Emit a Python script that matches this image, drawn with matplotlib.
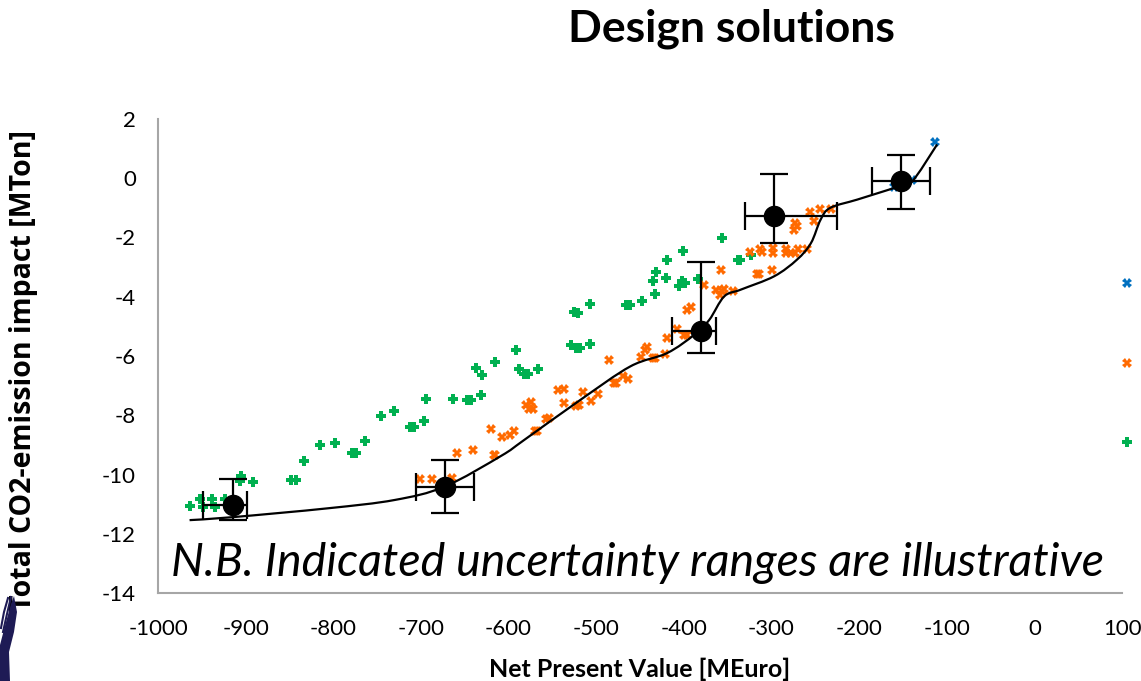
import matplotlib
matplotlib.use("Agg")
import matplotlib.pyplot as plt
import numpy as np
from matplotlib.path import Path
from matplotlib.patches import PathPatch, Polygon
from matplotlib.lines import Line2D

plt.rcParams['font.family'] = ['Lato', 'DejaVu Sans']
plt.rcParams['axes.unicode_minus'] = False

# design solutions, option set A (green)
green_x = [-963, -952, -949, -938, -935, -924, -905, -906, -892, -848, -842, -834,
           -815, -798, -779, -774, -764, -746, -731, -712, -708, -696, -694, -663,
           -648, -643, -631, -637, -630, -615, -591, -588, -582, -578, -566, -529,
           -523, -519, -507, -525, -521, -507, -466, -462, -448, -433, -435, -432,
           -420, -419, -401, -406, -402, -399, -384, -356, -338, -336, -323]
green_y = [-11.07, -10.81, -11.08, -10.81, -11.09, -10.81, -10.04, -10.21, -10.26, -10.18, -10.18, -9.55,
           -8.99, -8.92, -9.28, -9.28, -8.86, -8.01, -7.86, -8.39, -8.39, -8.18, -7.46, -7.45,
           -7.50, -7.50, -7.32, -6.42, -6.64, -6.21, -5.79, -6.45, -6.61, -6.61, -6.44, -5.63,
           -5.73, -5.73, -5.58, -4.50, -4.54, -4.24, -4.29, -4.29, -4.14, -3.91, -3.48, -3.18,
           -3.37, -2.77, -2.46, -3.63, -3.46, -3.54, -3.39, -2.02, -2.75, -2.75, -2.60]

# option set B (orange)
orange_x = [-701, -687, -665, -659, -641, -620, -617, -615, -607, -598, -594, -570,
            -568, -557, -554, -580, -574, -577, -572, -544, -537, -537, -523, -520,
            -515, -506, -498, -480, -477, -470, -464, -485, -449, -442, -444, -435,
            -433, -421, -419, -408, -400, -396, -396, -392, -377, -363, -359, -357,
            -354, -344, -358, -325, -317, -313, -311, -314, -300, -298, -298, -284,
            -284, -278, -273, -270, -260, -273, -271, -274, -256, -252, -245, -232]
orange_y = [-10.16, -10.16, -10.11, -9.29, -9.16, -8.48, -9.35, -9.35, -8.73, -8.67, -8.53, -8.53,
            -8.53, -8.12, -8.08, -7.66, -7.54, -7.78, -7.79, -7.16, -7.12, -7.59, -7.68, -7.66,
            -7.21, -7.51, -7.29, -6.90, -6.90, -6.69, -6.76, -6.15, -6.03, -5.70, -5.81, -6.07,
            -6.07, -5.94, -5.40, -5.08, -5.28, -5.28, -4.44, -4.36, -3.59, -3.76, -3.93, -3.80,
            -3.73, -3.79, -3.09, -2.50, -3.23, -2.39, -2.50, -3.23, -3.09, -2.35, -2.52, -2.38,
            -2.52, -2.52, -2.52, -2.39, -2.38, -1.51, -1.62, -1.76, -1.13, -1.43, -1.04, -1.04]

# option set C (blue)
blue_x = [-114, -160, -140]
blue_y = [1.21, -0.30, -0.05]

# selected solutions with illustrative uncertainty
sel_x = [-915, -673, -381, -297, -152]
sel_y = [-11.04, -10.41, -5.17, -1.26, -0.10]
sel_xerr_lo = [34, 33, 33, 33, 33]
sel_xerr_hi = [17, 33, 18, 72, 33]
sel_yerr_lo = [0.49, 0.90, 0.73, 0.91, 0.94]
sel_yerr_hi = [0.89, 0.90, 2.33, 1.39, 0.90]

# front line
front_x = [-964, -915, -806, -730, -673, -609, -582, -518, -461, -419, -388,
           -371, -354, -335, -297, -271, -255, -244, -233, -202, -160, -141, -111]
front_y = [-11.54, -11.44, -11.14, -10.86, -10.41, -9.38, -8.83, -7.48, -6.35, -5.90, -5.28,
           -4.78, -3.99, -3.76, -3.31, -2.75, -2.19, -1.40, -1.00, -0.72, -0.33, -0.16, 1.14]

GREEN = '#00B050'
ORANGE = '#FF6A00'
BLUE = '#0070C0'


def smooth_path(xs, ys):
    # Catmull-Rom style cubic Bezier through the given knots
    p = np.column_stack([xs, ys]).astype(float)
    verts = [p[0]]
    codes = [Path.MOVETO]
    n = len(p)
    for i in range(n - 1):
        p0 = p[i - 1] if i > 0 else p[i]
        p3 = p[i + 2] if i + 2 < n else p[i + 1]
        c1 = p[i] + (p[i + 1] - p0) / 6.0
        c2 = p[i + 1] - (p3 - p[i]) / 6.0
        verts += [c1, c2, p[i + 1]]
        codes += [Path.CURVE4] * 3
    return Path(verts, codes)


fig = plt.figure(figsize=(11.41, 6.81), dpi=100)
ax = fig.add_axes([0.1385, 0.1292, 0.8449, 0.6961])

ax.plot(green_x, green_y, linestyle='none', marker='P', markersize=6.5,
        color=GREEN, markeredgewidth=0, zorder=2)
ax.plot(orange_x, orange_y, linestyle='none', marker='X', markersize=7,
        color=ORANGE, markeredgewidth=0, zorder=2)
ax.plot(blue_x, blue_y, linestyle='none', marker='X', markersize=7,
        color=BLUE, markeredgewidth=0, zorder=2)

ax.add_patch(PathPatch(smooth_path(front_x, front_y), facecolor='none',
                       edgecolor='black', linewidth=1.6, zorder=3))

ax.errorbar(sel_x, sel_y, xerr=[sel_xerr_lo, sel_xerr_hi], yerr=[sel_yerr_lo, sel_yerr_hi],
            fmt='o', color='black', markersize=14.5, elinewidth=1.6, capsize=10,
            capthick=1.6, zorder=4)

ax.set_xlim(-1000, 100)
ax.set_ylim(-14, 2)
ax.set_xticks(np.arange(-1000, 101, 100))
ax.set_yticks(np.arange(-14, 3, 2))
ax.tick_params(length=0, labelsize=16)
ax.tick_params(axis='x', pad=19)
ax.tick_params(axis='y', pad=16)
for s in ['top', 'right']:
    ax.spines[s].set_visible(False)
for s in ['left', 'bottom']:
    ax.spines[s].set_color('#A6A6A6')
    ax.spines[s].set_linewidth(1.5)

ax.set_xlabel('Net Present Value [MEuro]', fontsize=18, fontweight='bold', labelpad=13)
ax.set_ylabel('Total CO2-emission impact [MTon]', fontsize=20.5, fontweight='bold',
              family=['Open Sans', 'DejaVu Sans'])
ax.yaxis.set_label_coords(-0.1245, 0.47)

ax.text(-985, -13.0, 'N.B. Indicated uncertainty ranges are illustrative', fontsize=33.5,
        style='italic', ha='left', va='center', zorder=5)

fig.text(0.641, 0.958, 'Design solutions', fontsize=32, fontweight='bold',
         ha='center', va='center')

# series key on the right edge
handles = [Line2D([], [], linestyle='none', marker='X', markersize=7, color=BLUE, markeredgewidth=0),
           Line2D([], [], linestyle='none', marker='X', markersize=7, color=ORANGE, markeredgewidth=0),
           Line2D([], [], linestyle='none', marker='P', markersize=6.5, color=GREEN, markeredgewidth=0)]
fig.legend(handles, ['', '', ''], loc='center', bbox_to_anchor=(0.9877, 0.466),
           frameon=False, handlelength=1, handletextpad=0, borderpad=0,
           borderaxespad=0, fontsize=10, labelspacing=4.85)

# logo fragment, bottom left corner
W, H = 1141, 681
logo = [(14, 596), (17, 612), (14, 632), (9, 652), (10, 681), (0, 681), (0, 645), (6, 622), (11, 604)]
fig.add_artist(Polygon([(x / W, 1 - y / H) for x, y in logo], closed=True,
                       transform=fig.transFigure, facecolor='#1E1B55', edgecolor='none'))
for pts in [[(8, 598), (4, 612), (1, 628)], [(11, 597), (7, 614), (3, 632)]]:
    fig.add_artist(Line2D([x / W for x, y in pts], [1 - y / H for x, y in pts],
                          transform=fig.transFigure, color='#1E1B55', linewidth=1.5))

fig.savefig('out.png', dpi=100)
